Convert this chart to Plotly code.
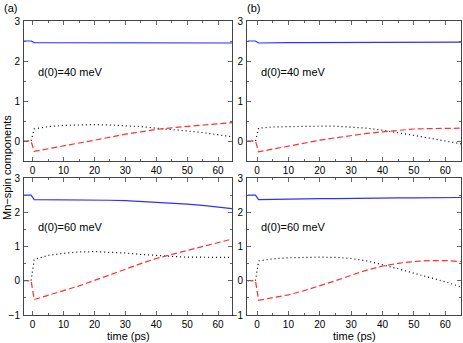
import plotly.graph_objects as go

# time grid (ps) shared by all panels
t = [-3, -0.5, 0.5, 5, 10, 15, 20, 25, 30, 35, 40, 45, 50, 55, 60, 65]

# (a) d(0)=40 meV
a_blue = [2.5, 2.5, 2.46, 2.46, 2.46, 2.46, 2.46, 2.46, 2.46, 2.46, 2.46, 2.46, 2.45, 2.45, 2.45, 2.45]
a_red = [0, 0, -0.26, -0.19, -0.12, -0.05, 0.02, 0.10, 0.17, 0.23, 0.29, 0.33, 0.37, 0.40, 0.43, 0.46]
a_dot = [0, 0, 0.30, 0.36, 0.39, 0.40, 0.41, 0.40, 0.38, 0.36, 0.32, 0.29, 0.25, 0.21, 0.16, 0.10]

# (b) d(0)=40 meV
b_blue = [2.5, 2.5, 2.45, 2.46, 2.46, 2.46, 2.46, 2.46, 2.46, 2.46, 2.46, 2.46, 2.46, 2.47, 2.47, 2.47]
b_red = [0, 0, -0.27, -0.20, -0.13, -0.06, 0.02, 0.08, 0.14, 0.19, 0.23, 0.27, 0.30, 0.31, 0.32, 0.32]
b_dot = [0, 0, 0.32, 0.35, 0.36, 0.37, 0.37, 0.37, 0.35, 0.32, 0.27, 0.21, 0.14, 0.07, 0.0, -0.07]

# (a) d(0)=60 meV
c_blue = [2.5, 2.5, 2.37, 2.37, 2.36, 2.36, 2.35, 2.35, 2.34, 2.32, 2.30, 2.27, 2.24, 2.20, 2.15, 2.10]
c_red = [0, 0, -0.55, -0.43, -0.30, -0.15, 0.01, 0.18, 0.35, 0.50, 0.65, 0.77, 0.89, 1.00, 1.12, 1.23]
c_dot = [0, 0, 0.62, 0.74, 0.80, 0.84, 0.85, 0.84, 0.81, 0.77, 0.73, 0.71, 0.69, 0.68, 0.68, 0.68]

# (b) d(0)=60 meV
d_blue = [2.5, 2.5, 2.37, 2.38, 2.39, 2.39, 2.40, 2.40, 2.41, 2.41, 2.42, 2.42, 2.42, 2.43, 2.43, 2.43]
d_red = [0, 0, -0.57, -0.50, -0.41, -0.29, -0.15, 0.0, 0.16, 0.31, 0.43, 0.51, 0.56, 0.59, 0.59, 0.56]
d_dot = [0, 0, 0.58, 0.64, 0.67, 0.69, 0.69, 0.68, 0.65, 0.58, 0.47, 0.35, 0.22, 0.10, -0.03, -0.18]

panel_labels = ["d(0)=40 meV", "d(0)=40 meV", "d(0)=60 meV", "d(0)=60 meV"]

W, H = 463, 343
FONT = "Liberation Sans, Arial, sans-serif"


def px_x(p):
    return p / W


def px_y(p):
    return 1 - p / H


panels = [
    (a_blue, a_red, a_dot, "x", "y", [24, 232], [21, 161], [-2.8, 64.5], [-0.5, 3]),
    (b_blue, b_red, b_dot, "x2", "y2", [247, 461], [21, 161], [-3.2, 65], [-0.5, 3]),
    (c_blue, c_red, c_dot, "x3", "y3", [24, 232], [178, 315], [-2.8, 64.5], [-1, 3]),
    (d_blue, d_red, d_dot, "x4", "y4", [247, 461], [178, 315], [-3.2, 65], [-1, 3]),
]

fig = go.Figure()
layout = {}

for i, (blue, red, dot, xa, ya, xd, yd, xr, yr) in enumerate(panels):
    fig.add_trace(go.Scatter(x=t, y=dot, mode="lines", xaxis=xa, yaxis=ya,
                             line=dict(color="black", width=1.2, dash="1px,3px")))
    fig.add_trace(go.Scatter(x=t, y=red, mode="lines", xaxis=xa, yaxis=ya,
                             line=dict(color="#ff3030", width=1.2, dash="6px,3px")))
    fig.add_trace(go.Scatter(x=t, y=blue, mode="lines", xaxis=xa, yaxis=ya,
                             line=dict(color="#3030ff", width=1.2)))

    sfx = "" if i == 0 else str(i + 1)
    axis_common = dict(
        showline=True, linecolor="#444", linewidth=1, mirror="allticks",
        ticks="inside", ticklen=4, tickcolor="#666", showgrid=False,
        zeroline=False, automargin=False,
        tickfont=dict(family=FONT, size=10, color="black"),
    )
    layout["xaxis" + sfx] = dict(
        axis_common, domain=[px_x(xd[0]), px_x(xd[1])], range=xr,
        anchor="y" + sfx, tickmode="linear", tick0=0, dtick=10,
        minor=dict(ticks="inside", ticklen=2, dtick=5, tickcolor="#666"),
        ticklabelstandoff=0,
    )
    layout["yaxis" + sfx] = dict(
        axis_common, domain=[px_y(yd[1]), px_y(yd[0])], range=yr,
        anchor="x" + sfx, tickmode="linear", tick0=0, dtick=1,
        minor=dict(ticks="inside", ticklen=2, dtick=0.5, tickcolor="#666"),
        ticklabelstandoff=1,
    )

annotations = []
for i, (xd, yd) in enumerate([(24, 72), (247, 72), (24, 227), (247, 227)]):
    annotations.append(dict(
        x=px_x(xd + 12), y=px_y(yd), xref="paper", yref="paper",
        text=panel_labels[i], showarrow=False, xanchor="left", yanchor="middle",
        font=dict(family=FONT, size=11, color="black")))
for xp in (128, 354):
    annotations.append(dict(x=px_x(xp), y=0, xref="paper", yref="paper",
                            text="time (ps)", showarrow=False, xanchor="center",
                            yanchor="bottom", borderpad=0,
                            font=dict(family=FONT, size=11, color="black")))
annotations.append(dict(x=px_x(2), y=px_y(8), xref="paper", yref="paper", text="(a)",
                        showarrow=False, xanchor="left", yanchor="middle",
                        font=dict(family=FONT, size=11, color="black")))
annotations.append(dict(x=px_x(245), y=px_y(8), xref="paper", yref="paper", text="(b)",
                        showarrow=False, xanchor="left", yanchor="middle",
                        font=dict(family=FONT, size=11, color="black")))
annotations.append(dict(x=px_x(7), y=px_y(168), xref="paper", yref="paper",
                        text="Mn\u2212spin components", showarrow=False, textangle=-90,
                        xanchor="center", yanchor="middle",
                        font=dict(family=FONT, size=11, color="black")))

fig.update_layout(
    width=W, height=H, margin=dict(l=0, r=0, t=0, b=0),
    plot_bgcolor="white", paper_bgcolor="white", showlegend=False,
    annotations=annotations, **layout,
)

# drop the browser's default page margin so the figure sits at the window corner
fig.write_html("out.html", config={"displayModeBar": False},
               post_script="document.body.style.margin='0';")
